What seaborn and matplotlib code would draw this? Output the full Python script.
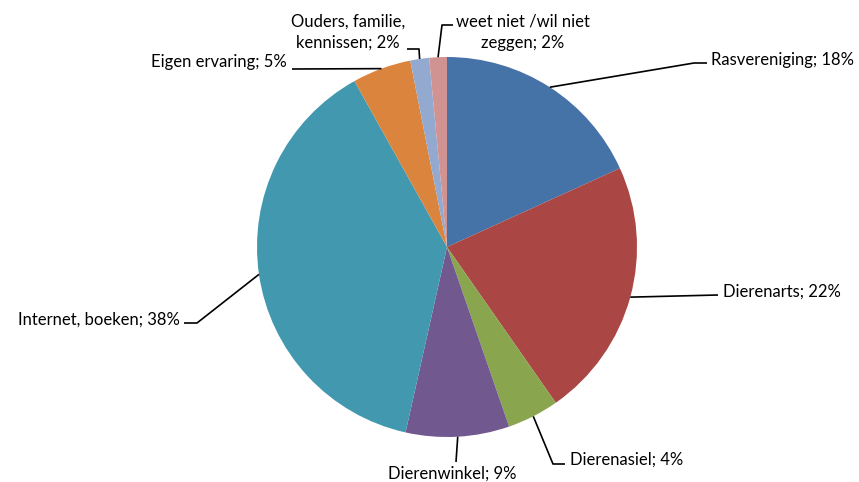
import numpy as np
import matplotlib
matplotlib.use("Agg")
import matplotlib.pyplot as plt
import seaborn as sns

# ===============================
# DATA
# ===============================

categories = ["Rasvereniging", "Dierenarts", "Dierenasiel", "Dierenwinkel",
              "Internet, boeken", "Eigen ervaring", "Ouders, familie,\nkennissen",
              "weet niet /wil niet\nzeggen"]
shares = [18.2, 22.1, 4.4, 8.8, 38.4, 5.0, 1.6, 1.5]
colors = ["#4572A7", "#AA4643", "#89A54E", "#71588F",
          "#4198AF", "#DB843D", "#93A9CF", "#D19392"]

# label layout in pixels (top-left origin): elbow, line end, text pos, ha
layout = [
    ((694, 63), (707, 63), (711, 60), "left"),
    ((718, 295), (718, 295), (723, 292), "left"),
    ((553, 464), (565, 464), (570, 460), "left"),
    ((456, 462), (456, 462), (452, 474), "center"),
    ((197, 323), (184, 323), (180, 320), "right"),
    ((292, 69), (292, 69), (287, 62), "right"),
    ((419, 49), (407, 49), (348, 32), "center"),
    ((442, 25), (453, 25), (523, 32), "center"),
]

# ===============================
# PLOT
# ===============================

sns.set_theme(style="white")
plt.rcParams["font.family"] = ["Lato", "DejaVu Sans"]

W, H = 859, 482
cx, cy, R = 447, 247, 190

fig = plt.figure(figsize=(W / 100, H / 100), dpi=100)
ax = fig.add_axes([0, 0, 1, 1])

wedges, _ = ax.pie(shares, colors=colors, startangle=90, counterclock=False,
                   center=(cx, H - cy), radius=R, frame=True,
                   wedgeprops=dict(linewidth=0))

for w, cat, val, (elbow, end, tpos, ha) in zip(wedges, categories, shares, layout):
    mid = np.deg2rad((w.theta1 + w.theta2) / 2)
    sx = cx + R * np.cos(mid)
    sy = (H - cy) + R * np.sin(mid)
    xs = [sx, elbow[0], end[0]]
    ys = [sy, H - elbow[1], H - end[1]]
    ax.plot(xs, ys, color="black", lw=1.2, solid_capstyle="butt")
    ax.text(tpos[0], H - tpos[1], f"{cat}; {round(val):.0f}%", ha=ha, va="center",
            fontsize=12, color="black", linespacing=1.4)

ax.set_xlim(0, W)
ax.set_ylim(0, H)
ax.set_aspect("equal")
ax.axis("off")

fig.savefig("out.png", dpi=100)
plt.close(fig)
